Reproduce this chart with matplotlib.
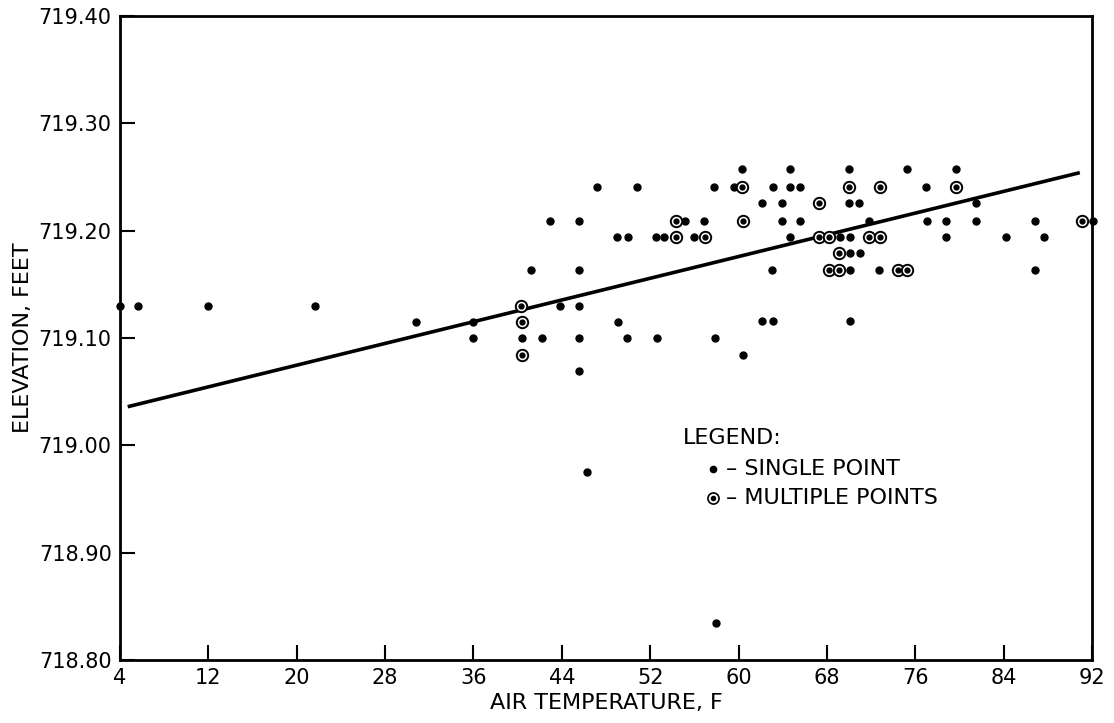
import numpy as np
import matplotlib
matplotlib.use("Agg")
import matplotlib.pyplot as plt

# -----------------------------
# Data
# -----------------------------
# single observations (air temperature F, elevation ft)
single_temp = [4.0, 5.6, 12.0, 21.7, 43.8, 45.6,
               30.8, 36.0, 49.1,
               36.0, 40.4, 42.2, 45.6, 49.9, 52.6, 57.9,
               60.4, 45.6, 46.3, 58.0,
               41.2, 45.6, 63.0, 70.1, 72.7, 86.8,
               70.1, 71.0,
               49.0, 50.0, 52.5, 53.3, 56.0, 64.7, 69.2, 70.1, 78.8, 84.2, 87.7,
               42.9, 45.6, 55.2, 56.9, 63.9, 65.6, 71.8, 77.1, 78.8, 81.5, 86.8, 92.1,
               62.1, 63.9, 70.0, 70.9, 81.5,
               47.2, 50.8, 57.8, 59.6, 63.1, 64.7, 65.6, 77.0,
               60.3, 64.7, 70.0, 75.3, 79.7,
               62.1, 63.1, 70.1]
single_elev = [719.130] * 6 + \
              [719.115] * 3 + \
              [719.100] * 7 + \
              [719.084, 719.069, 718.975, 718.835] + \
              [719.163] * 6 + \
              [719.179] * 2 + \
              [719.194] * 11 + \
              [719.209] * 12 + \
              [719.226] * 5 + \
              [719.241] * 8 + \
              [719.257] * 5 + \
              [719.116] * 3

# plotted points standing for several observations
multi_temp = [40.3, 40.4, 40.4,
              54.3, 60.4, 91.1,
              54.3, 57.0, 67.3, 68.2, 71.8, 72.8,
              69.1,
              68.2, 69.1, 74.4, 75.3,
              67.3,
              60.3, 70.0, 72.8, 79.7]
multi_elev = [719.130, 719.115, 719.084] + \
             [719.209] * 3 + \
             [719.194] * 6 + \
             [719.179] + \
             [719.163] * 4 + \
             [719.226] + \
             [719.241] * 4

# fitted straight line (end points)
fit_temp = [4.7, 90.9]
fit_elev = [719.036, 719.254]

x_ticks = np.arange(4, 93, 8)
y_ticks = [718.80, 718.90, 719.00, 719.10, 719.20, 719.30, 719.40]

# -----------------------------
# Plot
# -----------------------------
plt.rcParams['font.family'] = ['DejaVu Sans']

fig = plt.figure(figsize=(11.14, 7.23), dpi=100)
ax = fig.add_axes([0.1077, 0.087, 0.8725, 0.891])

ax.plot(fit_temp, fit_elev, color="black", lw=2.6, solid_capstyle="butt", zorder=2)

ax.plot(single_temp, single_elev, "o", color="black", ms=5, zorder=3, clip_on=False)
ax.plot(multi_temp, multi_elev, "o", mfc="white", mec="black", mew=1.4, ms=8.2,
        zorder=3, clip_on=False)
ax.plot(multi_temp, multi_elev, "o", color="black", ms=3.5, zorder=4, clip_on=False)

ax.set_xlim(4, 92)
ax.set_ylim(718.80, 719.40)
ax.set_xticks(x_ticks)
ax.set_yticks(y_ticks)
ax.set_yticklabels(["%.2f" % v for v in y_ticks])

ax.tick_params(direction="in", length=11, width=1.5, labelsize=15, pad=6)
for s in ax.spines.values():
    s.set_linewidth(2)

ax.set_xlabel("AIR TEMPERATURE, F", fontsize=16, labelpad=3)
ax.set_ylabel("ELEVATION, FEET", fontsize=16, labelpad=4)

# hand-lettered legend
ax.text(0.579, 0.345, "LEGEND:", transform=ax.transAxes, fontsize=16, va="center")
ax.plot([0.610], [0.297], "o", color="black", ms=4.5, transform=ax.transAxes)
ax.text(0.623, 0.297, "– SINGLE POINT", transform=ax.transAxes, fontsize=16, va="center")
ax.plot([0.610], [0.252], "o", mfc="white", mec="black", mew=1.2, ms=8,
        transform=ax.transAxes)
ax.plot([0.610], [0.252], "o", color="black", ms=3, transform=ax.transAxes)
ax.text(0.623, 0.252, "– MULTIPLE POINTS", transform=ax.transAxes, fontsize=16, va="center")

plt.savefig("out.png", dpi=100)
